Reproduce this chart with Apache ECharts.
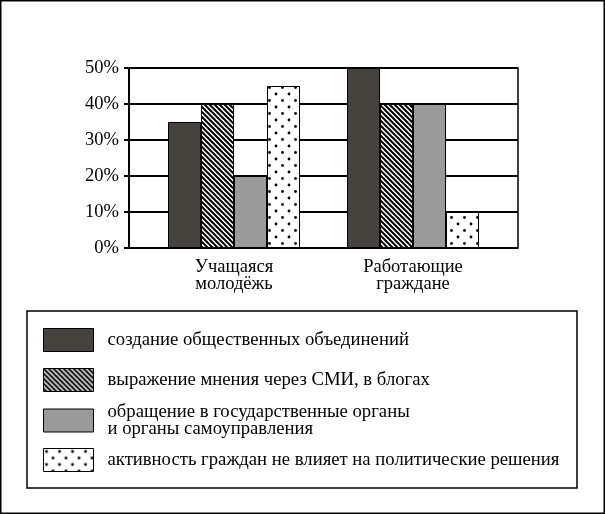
<!DOCTYPE html>
<html>
<head>
<meta charset="utf-8">
<script src="https://cdn.jsdelivr.net/npm/echarts@6/dist/echarts.min.js"></script>
<style>
html,body{margin:0;padding:0;background:#fff}
#c{width:605px;height:514px}
</style>
</head>
<body>
<div id="c"></div>
<script>
// ---- data ----
const categories = ['Учащаяся\nмолодёжь', 'Работающие\nграждане'];
const seriesNames = [
  'создание общественных объединений',
  'выражение мнения через СМИ, в блогах',
  'обращение в государственные органы\nи органы самоуправления',
  'активность граждан не влияет на политические решения'
];
const valuesAssociations = [35, 50];
const valuesMedia = [40, 40];
const valuesAuthorities = [20, 40];
const valuesNoInfluence = [45, 10];
const yTicks = [0, 10, 20, 30, 40, 50];
const yTickLabels = ['0%', '10%', '20%', '30%', '40%', '50%'];

const seriesValues = [valuesAssociations, valuesMedia, valuesAuthorities, valuesNoInfluence];

// ---- fills ----
function hatchCanvas() {
  const c = document.createElement('canvas');
  c.width = 5; c.height = 5;
  const g = c.getContext('2d');
  g.fillStyle = '#fff'; g.fillRect(0, 0, 5, 5);
  g.strokeStyle = '#000'; g.lineWidth = 2;
  g.beginPath();
  g.moveTo(-1, -1); g.lineTo(6, 6);
  g.moveTo(-1, 4); g.lineTo(1, 6);
  g.moveTo(4, -1); g.lineTo(6, 1);
  g.stroke();
  return c;
}
function dotCanvas() {
  const c = document.createElement('canvas');
  c.width = 13; c.height = 13;
  const g = c.getContext('2d');
  g.fillStyle = '#fff'; g.fillRect(0, 0, 13, 13);
  g.fillStyle = '#000';
  g.beginPath(); g.arc(3, 3, 1.4, 0, Math.PI * 2); g.fill();
  g.beginPath(); g.arc(9.5, 9.5, 1.4, 0, Math.PI * 2); g.fill();
  return c;
}
const fills = [
  '#46433f',
  { image: hatchCanvas(), repeat: 'repeat' },
  '#9a9a9a',
  { image: dotCanvas(), repeat: 'repeat' }
];

const FONT = 'Liberation Serif';
const legendTops = [328, 368, 402.5, 448];

const chart = echarts.init(document.getElementById('c'), null, { renderer: 'canvas' });
chart.setOption({
  backgroundColor: '#fff',
  animation: false,
  grid: [
    { left: 129, right: 87, top: 68, bottom: 266, show: true, borderColor: '#000', borderWidth: 1.5, backgroundColor: 'transparent' },
    { left: 144.5, right: 102.5, top: 68, bottom: 266 }
  ],
  xAxis: [
    { gridIndex: 0, type: 'value', show: false },
    {
      gridIndex: 1, type: 'category', data: categories,
      axisLine: { show: false }, axisTick: { show: false }, splitLine: { show: false },
      axisLabel: { fontFamily: FONT, fontSize: 18.5, lineHeight: 17.5, color: '#000', margin: 10, interval: 0 }
    }
  ],
  yAxis: [
    {
      gridIndex: 0, type: 'value',
      min: yTicks[0], max: yTicks[yTicks.length - 1], interval: yTicks[1] - yTicks[0],
      axisLine: { show: true, lineStyle: { color: '#000', width: 2 } },
      axisTick: { show: true, length: 5, lineStyle: { color: '#000', width: 2 } },
      axisLabel: {
        fontFamily: FONT, fontSize: 18.5, color: '#000', margin: 10,
        formatter: v => yTickLabels[yTicks.indexOf(v)]
      },
      splitLine: { show: true, lineStyle: { color: '#000', width: 2 } }
    },
    { gridIndex: 1, type: 'value', min: yTicks[0], max: yTicks[yTicks.length - 1], show: false }
  ],
  legend: seriesNames.map((n, i) => ({
    data: [n],
    orient: 'vertical',
    left: 43,
    top: legendTops[i],
    itemWidth: 50,
    itemHeight: 23,
    icon: 'rect',
    selectedMode: false,
    padding: 0,
    itemStyle: { borderColor: '#000', borderWidth: 1 },
    textStyle: { fontFamily: FONT, fontSize: 18.7, lineHeight: 17, color: '#000', padding: [0, 0, 0, 9] }
  })),
  graphic: [
    { type: 'rect', silent: true, shape: { x: 0.75, y: 0.75, width: 603.5, height: 512.5 }, style: { fill: 'none', stroke: '#000', lineWidth: 1.5 } },
    { type: 'rect', silent: true, shape: { x: 27, y: 311, width: 550, height: 177 }, style: { fill: 'none', stroke: '#000', lineWidth: 1.5 } }
  ],
  series: seriesNames.map((n, i) => ({
    name: n,
    type: 'bar',
    xAxisIndex: 1,
    yAxisIndex: 1,
    data: seriesValues[i],
    barWidth: 33,
    barGap: '0%',
    itemStyle: { color: fills[i], borderColor: '#000', borderWidth: 1 }
  }))
});
</script>
</body>
</html>
